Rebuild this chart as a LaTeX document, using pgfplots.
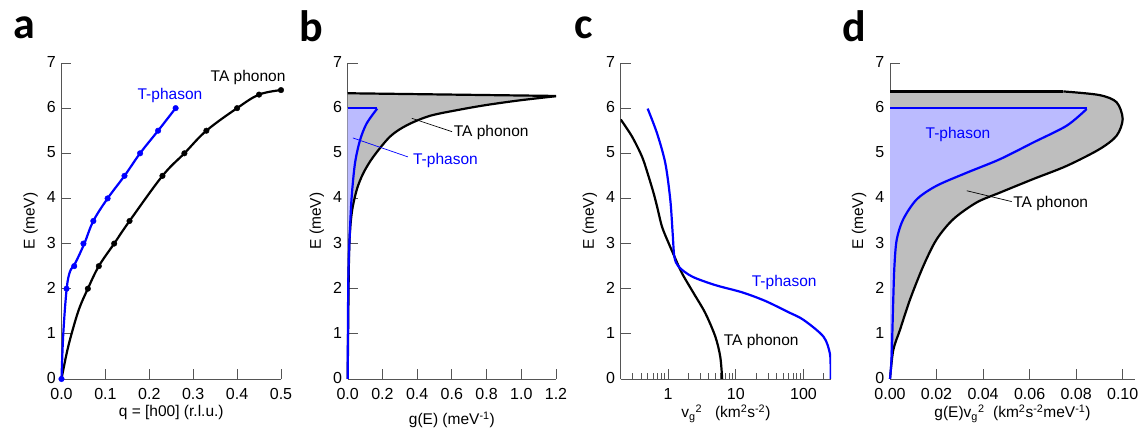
\documentclass[border=0pt]{standalone}
\usepackage{fontspec}
\setmainfont{Liberation Sans}
\newfontfamily\letterfont{Carlito}
\usepackage{pgfplots}
\pgfplotsset{compat=1.18}
\definecolor{phason}{HTML}{0000FF}
\definecolor{phasonfill}{HTML}{BBBBFF}
\definecolor{phononfill}{HTML}{BEBEBE}
\definecolor{axisgray}{HTML}{555555}

\pgfplotsset{
  panel/.style={
    scale only axis, height=316pt,
    ymin=0, ymax=7, ytick={0,1,2,3,4,5,6,7},
    axis x line*=bottom, axis y line*=left,
    tick align=inside,
    major tick length=10pt, minor tick length=6pt,
    tick style={axisgray, line width=0.9pt},
    axis line style={axisgray, line width=0.9pt},
    tick label style={font=\fontsize{16}{18}\selectfont, inner sep=0.5pt},
    xticklabel style={yshift=-9pt},
    yticklabel style={xshift=-5pt, yshift=1pt},
    label style={font=\fontsize{15.5}{18}\selectfont},
    xlabel shift=1pt, ylabel shift=5pt,
    /pgf/number format/assume math mode=true,
    ylabel={E (meV)},
  },
  crv/.style={line width=2.2pt},
}
\newcommand{\lbl}{\fontsize{15.5}{18}\selectfont}

\begin{document}
\begin{tikzpicture}
\path[use as bounding box] (0pt,0pt) rectangle (1141pt,435pt);

% ---------- a ----------
\begin{axis}[panel, at={(61.5pt,56pt)}, anchor=south west, width=219.5pt,
  xmin=0, xmax=0.5, xtick={0,0.1,0.2,0.3,0.4,0.5},
  xticklabel style={/pgf/number format/.cd, fixed, fixed zerofill, precision=1},
  xlabel={q = [h00] (r.l.u.)}, clip=false]
  \addplot[crv, black, smooth, tension=0.6] coordinates {
    (0,0) (0.0118,0.57) (0.0232,1.01) (0.04,1.55) (0.06,2.0) (0.085,2.5) (0.12,3.0) (0.155,3.5)
    (0.23,4.5) (0.28,5.0) (0.33,5.5) (0.40,6.0) (0.45,6.3) (0.50,6.4)};
  \addplot[only marks, black, mark=*, mark size=2.8pt] coordinates {
    (0.06,2.0) (0.085,2.5) (0.12,3.0) (0.155,3.5) (0.23,4.5) (0.28,5.0)
    (0.33,5.5) (0.40,6.0) (0.45,6.3) (0.50,6.4)};
  \addplot[crv, phason, smooth, tension=0.6] coordinates {
    (0,0) (0.0041,1.01) (0.0118,2.0) (0.0194,2.38) (0.031,2.56)
    (0.052,3.0) (0.0725,3.5) (0.105,4.0) (0.1435,4.5) (0.179,5.0) (0.22,5.5) (0.26,6.0)};
  \addplot[only marks, phason, mark=*, mark size=2.8pt] coordinates {
    (0,0) (0.0115,2.0) (0.029,2.5) (0.05,3.0) (0.0725,3.5) (0.105,4.0)
    (0.1435,4.5) (0.179,5.0) (0.22,5.5) (0.26,6.0)};
  \node[phason, font=\lbl] at (axis cs:0.247,6.27) {T-phason};
  \node[black, font=\lbl] at (axis cs:0.425,6.69) {TA phonon};
\end{axis}

% ---------- b ----------
\begin{axis}[panel, at={(347.7pt,56pt)}, anchor=south west, width=208.3pt,
  xmin=0, xmax=1.2, xtick={0,0.2,0.4,0.6,0.8,1.0,1.2},
  xticklabel style={/pgf/number format/.cd, fixed, fixed zerofill, precision=1},
  xlabel={g(E) (meV\textsuperscript{-1})}, xlabel shift=8pt, clip=false]
  \addplot[draw=none, fill=phononfill, smooth] coordinates {
    (0,0) (0.0035,1.45) (0.009,2.93) (0.023,3.67) (0.052,4.19) (0.09,4.56)
    (0.147,4.92) (0.244,5.37) (0.34,5.62) (0.474,5.83) (0.65,5.97)
    (0.8,6.07) (0.985,6.17) (1.2,6.265)} -- (axis cs:0,6.33) -- cycle;
  \addplot[draw=none, fill=phasonfill, smooth] coordinates {
    (0,0) (0.0035,2.19) (0.013,3.3) (0.023,4.04) (0.042,4.78) (0.071,5.29)
    (0.109,5.66) (0.17,5.99)} -- (axis cs:0,6.0) -- cycle;
  \addplot[crv, black, smooth] coordinates {
    (0,0) (0.0035,1.45) (0.009,2.93) (0.023,3.67) (0.052,4.19) (0.09,4.56)
    (0.147,4.92) (0.244,5.37) (0.34,5.62) (0.474,5.83) (0.65,5.97)
    (0.8,6.07) (0.985,6.17) (1.2,6.265)};
  \addplot[crv, black] coordinates {(1.2,6.27) (0,6.33)};
  \addplot[crv, phason, smooth] coordinates {
    (0,0) (0.0035,2.19) (0.013,3.3) (0.023,4.04) (0.042,4.78) (0.071,5.29)
    (0.109,5.66) (0.17,5.99)};
  \addplot[crv, phason] coordinates {(0.17,6.0) (0,6.0)};
  \draw[black, line width=0.7pt] (axis cs:0.369,5.775) -- (axis cs:0.601,5.478);
  \node[black, font=\lbl, anchor=west, inner sep=1pt] at (axis cs:0.605,5.45) {TA phonon};
  \draw[phason, line width=0.7pt] (axis cs:0.03,5.34) -- (axis cs:0.347,4.92);
  \node[phason, font=\lbl, anchor=west, inner sep=1pt] at (axis cs:0.37,4.85) {T-phason};
\end{axis}

% ---------- c ----------
\begin{axis}[panel, at={(620.7pt,56pt)}, anchor=south west, width=210.3pt,
  xmode=log, xmin=0.2, xmax=255,
  xtick={1,10,100}, xticklabels={1,10,100},
  minor xtick={0.3,0.4,0.5,0.6,0.7,0.8,0.9,2,3,4,5,6,7,8,9,20,30,40,50,60,70,80,90,200},
  xlabel={v\textsubscript{g}\textsuperscript{2}\ \ \ (km\textsuperscript{2}s\textsuperscript{-2})}]
  \addplot[crv, black, smooth] coordinates {
    (6.3,0) (5.91,0.49) (4.99,0.94) (3.55,1.46) (2.39,1.90) (1.61,2.34)
    (1.28,2.67) (1.02,3.01) (0.816,3.37) (0.689,3.82) (0.614,4.11)
    (0.518,4.48) (0.414,4.92) (0.294,5.37) (0.2,5.75)};
  \addplot[crv, phason, smooth] coordinates {
    (0.5,5.99) (0.689,5.44) (0.912,4.78) (1.08,3.97) (1.17,3.23) (1.24,2.71)
    (1.43,2.49) (2.26,2.27) (4.99,2.08) (12.4,1.92) (27.2,1.73) (60,1.48) (100,1.31)
    (197,0.94) (245,0.57) (252,0.2) (252,0)};
  \node[phason, font=\lbl] at (axis cs:51.9,2.13) {T-phason};
  \node[black, font=\lbl] at (axis cs:23.8,0.82) {TA phonon};
\end{axis}

% ---------- d ----------
\begin{axis}[panel, at={(890pt,56pt)}, anchor=south west, width=245pt,
  xmin=0, xmax=0.1053, xtick={0,0.02,0.04,0.06,0.08,0.10},
  xticklabel style={/pgf/number format/.cd, fixed, fixed zerofill, precision=2},
  xlabel={g(E)v\textsubscript{g}\textsuperscript{2}\ \ (km\textsuperscript{2}s\textsuperscript{-2}meV\textsuperscript{-1})},
  clip=false]
  \addplot[draw=none, fill=phononfill, smooth] coordinates {
    (0,0) (0.0014,0.64) (0.0043,1.09) (0.0086,1.76) (0.0143,2.5) (0.020,3.09)
    (0.0272,3.54) (0.0372,3.91) (0.0473,4.13) (0.0616,4.43) (0.0759,4.72)
    (0.090,5.09) (0.0974,5.39) (0.1,5.76) (0.0974,6.13) (0.090,6.29) (0.0745,6.37)}
    -- (axis cs:0,6.37) -- cycle;
  \addplot[draw=none, fill=phasonfill, smooth] coordinates {
    (0,0) (0.0007,0.5) (0.0014,1.76) (0.0019,2.5) (0.0029,3.09) (0.0057,3.54)
    (0.0115,3.98) (0.02,4.28) (0.033,4.57) (0.0473,4.87) (0.0616,5.24)
    (0.0759,5.61) (0.0845,5.98)} -- (axis cs:0,6.0) -- cycle;
  \addplot[crv, black, smooth] coordinates {
    (0,0) (0.0014,0.64) (0.0043,1.09) (0.0086,1.76) (0.0143,2.5) (0.020,3.09)
    (0.0272,3.54) (0.0372,3.91) (0.0473,4.13) (0.0616,4.43) (0.0759,4.72)
    (0.090,5.09) (0.0974,5.39) (0.1,5.76) (0.0974,6.13) (0.090,6.29) (0.0745,6.37)};
  \addplot[crv, black] coordinates {(0.0745,6.37) (0,6.37)};
  \addplot[crv, phason, smooth] coordinates {
    (0,0) (0.0007,0.5) (0.0014,1.76) (0.0019,2.5) (0.0029,3.09) (0.0057,3.54)
    (0.0115,3.98) (0.02,4.28) (0.033,4.57) (0.0473,4.87) (0.0616,5.24)
    (0.0759,5.61) (0.0845,5.98)};
  \addplot[crv, phason] coordinates {(0.0845,6.0) (0,6.0)};
  \node[phason, font=\lbl] at (axis cs:0.0292,5.41) {T-phason};
  \draw[black, line width=0.7pt] (axis cs:0.033,4.17) -- (axis cs:0.0523,3.93);
  \node[black, font=\lbl, anchor=west, inner sep=1pt] at (axis cs:0.0525,3.88) {TA phonon};
\end{axis}

% panel letters
\node[font=\letterfont\bfseries\fontsize{44}{44}\selectfont] at (24pt,407pt) {a};
\node[font=\letterfont\bfseries\fontsize{44}{44}\selectfont] at (311pt,409pt) {b};
\node[font=\letterfont\bfseries\fontsize{44}{44}\selectfont] at (584pt,407pt) {c};
\node[font=\letterfont\bfseries\fontsize{44}{44}\selectfont] at (854pt,409pt) {d};
\end{tikzpicture}
\end{document}
